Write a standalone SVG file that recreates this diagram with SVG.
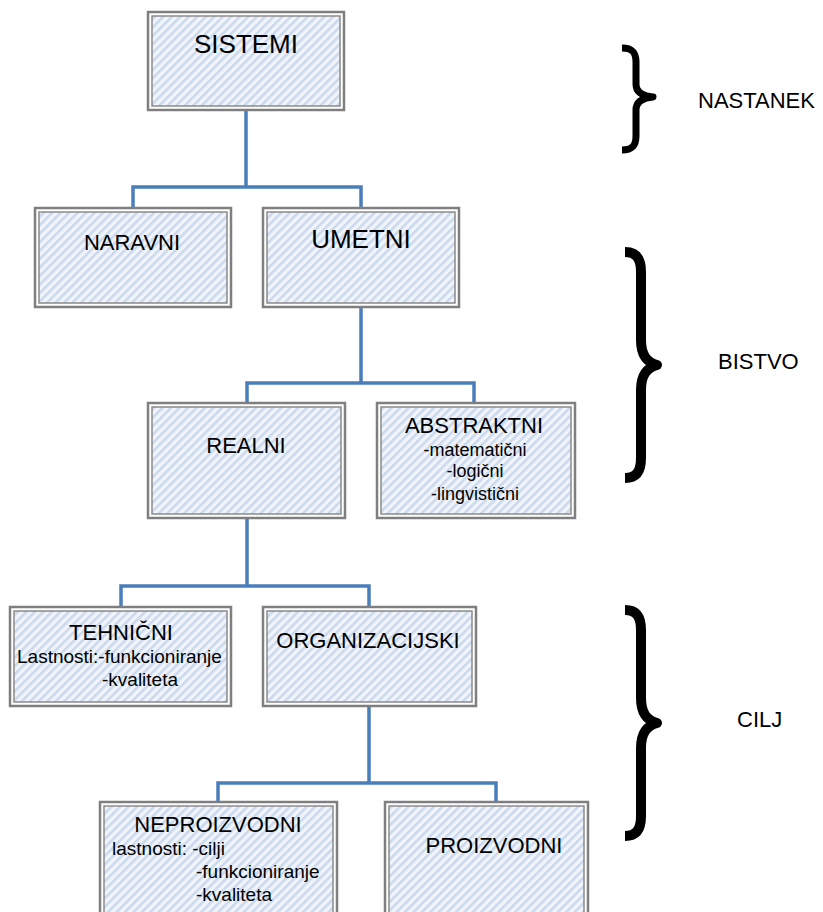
<svg xmlns="http://www.w3.org/2000/svg" width="823" height="912" viewBox="0 0 823 912">
<defs>
<pattern id="hatch" patternUnits="userSpaceOnUse" width="6" height="6" patternTransform="rotate(45)">
<rect width="6" height="6" fill="#f1f5fb"/>
<rect width="2.6" height="6" fill="#cbd9ec"/>
</pattern>
</defs>
<style>
.outer{fill:#ffffff;stroke:#7f7f7f;stroke-width:2.5}
.inner{fill:url(#hatch);stroke:#8a8a8a;stroke-width:1.5}
.t{font-family:"Liberation Sans",Arial,sans-serif;fill:#000;text-anchor:middle}
.s{font-family:"Liberation Sans",Arial,sans-serif;fill:#000}
.big{font-size:26px}
.mid{font-size:22px}
.sm{font-size:19px}
.conn{fill:none;stroke:#4a7ebb;stroke-width:3.5}
.brace{fill:none;stroke:#000;stroke-linejoin:round}
</style>
<g id="connectors">
<path class="conn" d="M246,110 V187 M133,208 V187 H361 V208"/>
<path class="conn" d="M361,307 V383 M247,403 V383 H474 V403"/>
<path class="conn" d="M247,518 V586 M121,607 V586 H369 V607"/>
<path class="conn" d="M369,706 V783 M218,802 V783 H496 V802"/>
</g>
<g id="sistemi">
<rect class="outer" x="148" y="12" width="196" height="98"/>
<rect class="inner" x="152" y="16" width="188" height="90"/>
<text class="t big" x="246" y="53">SISTEMI</text>
</g>
<g id="naravni">
<rect class="outer" x="35" y="208" width="196" height="99"/>
<rect class="inner" x="39" y="212" width="188" height="91"/>
<text class="t mid" x="132" y="250">NARAVNI</text>
</g>
<g id="umetni">
<rect class="outer" x="263" y="208" width="196" height="99"/>
<rect class="inner" x="267" y="212" width="188" height="91"/>
<text class="t big" x="361" y="248">UMETNI</text>
</g>
<g id="realni">
<rect class="outer" x="148" y="403" width="197" height="115"/>
<rect class="inner" x="152" y="407" width="189" height="107"/>
<text class="t mid" x="246" y="453">REALNI</text>
</g>
<g id="abstraktni">
<rect class="outer" x="377" y="403" width="198" height="115"/>
<rect class="inner" x="381" y="407" width="190" height="107"/>
<text class="t mid" x="474" y="433">ABSTRAKTNI</text>
<text class="t" style="font-size:18px" x="475" y="456">-matematični</text>
<text class="t" style="font-size:18px" x="475" y="477">-logični</text>
<text class="t" style="font-size:18px" x="475" y="500">-lingvistični</text>
</g>
<g id="tehnicni">
<rect class="outer" x="10" y="607" width="221" height="99"/>
<rect class="inner" x="14" y="611" width="213" height="91"/>
<text class="t mid" x="121" y="640">TEHNIČNI</text>
<text class="s sm" x="17" y="663">Lastnosti:-funkcioniranje</text>
<text class="s sm" x="102" y="686">-kvaliteta</text>
</g>
<g id="organizacijski">
<rect class="outer" x="263" y="607" width="213" height="99"/>
<rect class="inner" x="267" y="611" width="205" height="91"/>
<text class="t mid" x="368" y="648">ORGANIZACIJSKI</text>
</g>
<g id="neproizvodni">
<rect class="outer" x="100" y="802" width="237" height="125"/>
<rect class="inner" x="104" y="806" width="229" height="117"/>
<text class="t mid" x="218" y="832">NEPROIZVODNI</text>
<text class="s sm" x="112" y="855">lastnosti: -cilji</text>
<text class="s sm" x="196" y="878">-funkcioniranje</text>
<text class="s sm" x="196" y="901">-kvaliteta</text>
</g>
<g id="proizvodni">
<rect class="outer" x="385" y="802" width="203" height="125"/>
<rect class="inner" x="389" y="806" width="195" height="117"/>
<text class="t mid" x="494" y="853">PROIZVODNI</text>
</g>
<g id="nastanek">
<path class="brace" stroke-width="7" d="M622,48 C632,48 636,52 636,62 L636,84 C636,92 642,96 653,97 C642,98 636,102 636,110 L636,136 C636,146 632,150 622,150"/>
<text class="s mid" x="698" y="108">NASTANEK</text>
</g>
<g id="bistvo">
<path class="brace" stroke-width="10" d="M625,252 C636,252 641,258 641,272 L641,340 C641,354 646,362 657,365 C646,368 641,376 641,390 L641,458 C641,472 636,478 625,478"/>
<text class="s mid" x="718" y="369">BISTVO</text>
</g>
<g id="cilj">
<path class="brace" stroke-width="10" d="M625,610 C636,610 641,616 641,630 L641,698 C641,712 646,720 657,723 C646,726 641,734 641,748 L641,816 C641,830 636,836 625,836"/>
<text class="s mid" x="737" y="727">CILJ</text>
</g>
</svg>
